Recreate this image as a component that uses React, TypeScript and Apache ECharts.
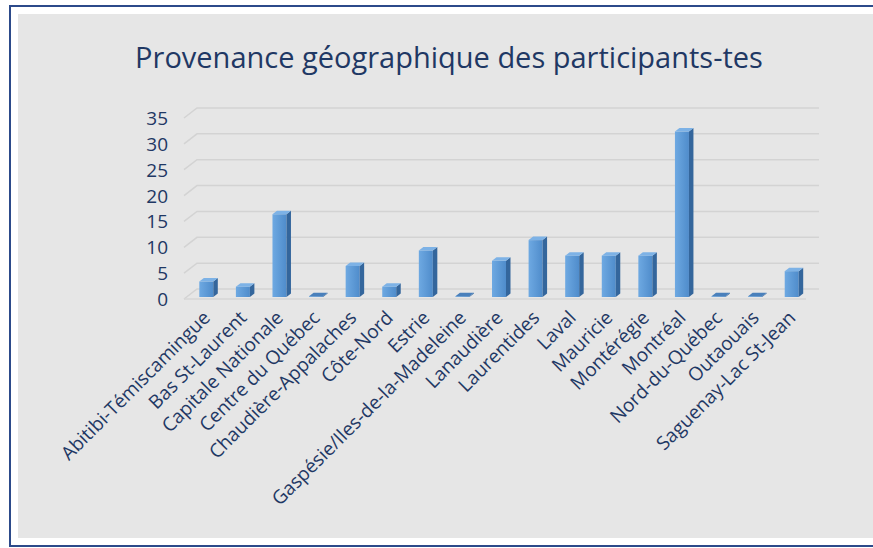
import React, { useEffect, useRef } from "react";
import * as echarts from "echarts";

const titleText = "Provenance géographique des participants-tes";
const categories = [
  "Abitibi-Témiscamingue",
  "Bas St-Laurent",
  "Capitale Nationale",
  "Centre du Québec",
  "Chaudière-Appalaches",
  "Côte-Nord",
  "Estrie",
  "Gaspésie/Iles-de-la-Madeleine",
  "Lanaudière",
  "Laurentides",
  "Laval",
  "Mauricie",
  "Montérégie",
  "Montréal",
  "Nord-du-Québec",
  "Outaouais",
  "Saguenay-Lac St-Jean",
];
const values = [3, 2, 16, 0, 6, 2, 9, 0, 7, 11, 8, 8, 8, 32, 0, 0, 5];
const yTicks = [0, 5, 10, 15, 20, 25, 30, 35];

const TEXT = "#1f3864";
const FONT = "Open Sans";

export default function App() {
  const ref = useRef<HTMLDivElement>(null);
  useEffect(() => {
    if (!ref.current) return;
    const chart = echarts.init(ref.current, undefined, { renderer: "svg" });
    const frontGrad = new echarts.graphic.LinearGradient(0, 0, 1, 0, [
      { offset: 0, color: "#6ea9e2" },
      { offset: 1, color: "#4f8ccb" },
    ]);
    const option: any = {
      animation: false,
      backgroundColor: "transparent",
      graphic: [
        {
          type: "rect",
          z: -20,
          shape: { x: 10, y: 6, width: 1000, height: 540 },
          style: { fill: "#ffffff", stroke: "#2c4a8a", lineWidth: 2 },
        },
        {
          type: "rect",
          z: -19,
          shape: { x: 18, y: 14, width: 1000, height: 524 },
          style: { fill: "#e6e6e6" },
        },
      ],
      title: {
        text: titleText,
        left: 449,
        top: 56,
        textAlign: "center",
        textVerticalAlign: "middle",
        padding: 0,
        textStyle: {
          fontFamily: FONT,
          fontSize: 29,
          fontWeight: "normal",
          color: TEXT,
        },
      },
      grid: { left: 188, right: 63, top: 118, bottom: 249, containLabel: false },
      xAxis: {
        type: "category",
        data: categories,
        axisLine: { show: false },
        axisTick: { show: false },
        splitLine: { show: false },
        axisLabel: {
          interval: 0,
          rotate: 45,
          margin: 15,
          fontFamily: FONT,
          fontSize: 19,
          color: TEXT,
        },
      },
      yAxis: {
        type: "value",
        min: 0,
        max: 35,
        interval: 5,
        axisLine: { show: false },
        axisTick: { show: false },
        splitLine: { show: false },
        axisLabel: {
          margin: 20,
          fontFamily: FONT,
          fontSize: 19,
          color: TEXT,
        },
      },
      series: [
        {
          type: "custom",
          z: 1,
          silent: true,
          data: yTicks.map((v) => [0, v]),
          renderItem: (params: any, api: any) => {
            const cs = params.coordSys;
            const v = api.value(1);
            const p = api.coord([0, v]);
            const y = p[1];
            const xl = cs.x - 4;
            const children: any[] = [
              {
                type: "polyline",
                shape: {
                  points: [
                    [xl, y],
                    [xl + 13, y - 10],
                    [cs.x + cs.width + 9, y - 10],
                  ],
                },
                style: { stroke: "#d3d3d3", lineWidth: 1.5, fill: null },
              },
            ];
            if (v === 0) {
              children.push({
                type: "line",
                shape: { x1: xl, y1: y, x2: cs.x + cs.width - 4, y2: y },
                style: { stroke: "#d6d6d6", lineWidth: 1.5 },
              });
            }
            return { type: "group", children };
          },
        },
        {
          type: "custom",
          z: 3,
          data: values.map((v, i) => [i, v]),
          renderItem: (params: any, api: any) => {
            const i = api.value(0);
            const v = api.value(1);
            const top = api.coord([i, v]);
            const base = api.coord([i, 0]);
            const fw = 14;
            const dx = 4.5;
            const dy = -3.5;
            const sh = -2;
            const x0 = top[0] - fw / 2;
            const x1 = top[0] + fw / 2;
            const yT = top[1] + sh;
            const yB = base[1] + sh;
            const h = Math.max(yB - yT, 0.8);
            return {
              type: "group",
              children: [
                {
                  type: "rect",
                  shape: { x: x0, y: yB - h, width: fw, height: h },
                  style: { fill: frontGrad },
                },
                {
                  type: "polygon",
                  shape: {
                    points: [
                      [x1, yB - h],
                      [x1 + dx, yB - h + dy],
                      [x1 + dx, yB + dy],
                      [x1, yB],
                    ],
                  },
                  style: { fill: "#34669c" },
                },
                {
                  type: "polygon",
                  shape: {
                    points: [
                      [x0, yB - h],
                      [x0 + dx, yB - h + dy],
                      [x1 + dx, yB - h + dy],
                      [x1, yB - h],
                    ],
                  },
                  style: { fill: v === 0 ? "#4a80bb" : "#7db2e6" },
                },
              ],
            };
          },
        },
      ],
    };
    chart.setOption(option);
    return () => chart.dispose();
  }, []);
  return (
    <div
      ref={ref}
      style={{
        position: "fixed",
        left: 0,
        top: 0,
        width: 873,
        height: 548,
        background: "#ffffff",
      }}
    />
  );
}
